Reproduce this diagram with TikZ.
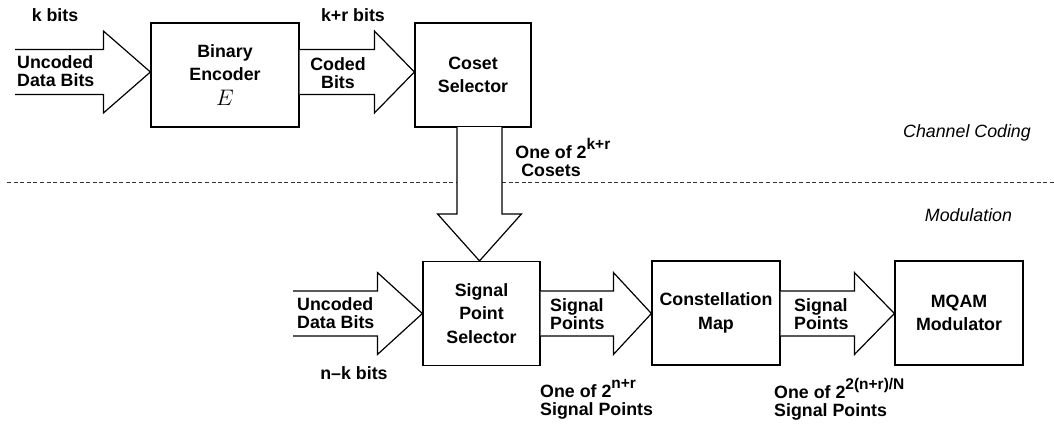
\documentclass[tikz,border=0pt]{standalone}
\usepackage{fontspec}
\setmainfont{Liberation Sans}
\usetikzlibrary{calc}
\tikzset{
  blk/.style={draw, line width=1.2pt, inner sep=0pt, minimum height=104pt, align=center,
    font=\bfseries\fontsize{17.8}{23.5}\selectfont},
  fat/.style={draw, line width=1.2pt, fill=white, line join=miter},
  lbl/.style={inner sep=0pt, align=left, font=\bfseries\fontsize{17.8}{18}\selectfont},
  lblc/.style={lbl, align=center},
  ital/.style={inner sep=0pt, font=\itshape\fontsize{17.8}{18}\selectfont},
  sep/.style={line width=1pt, black!80, dash pattern=on 4pt off 2.6pt}
}
\newcommand\fatH[3]{\draw[fat] let \p1=(#1),\p2=(#2) in
  (\x1,\y1+22.5pt) -- (\x2-#3pt,\y1+22.5pt) -- (\x2-#3pt,\y1+41pt) -- (\x2,\y1)
  -- (\x2-#3pt,\y1-41pt) -- (\x2-#3pt,\y1-22.5pt) -- (\x1,\y1-22.5pt);}
\newcommand\fatV[3]{\draw[fat] let \p1=(#1),\p2=(#2) in
  (\x1-22.5pt,\y1) -- (\x1-22.5pt,\y2+#3pt) -- (\x1-42pt,\y2+#3pt) -- (\x1,\y2)
  -- (\x1+42pt,\y2+#3pt) -- (\x1+22.5pt,\y2+#3pt) -- (\x1+22.5pt,\y1);}
\newcommand\sups[1]{\raisebox{9pt}{\fontsize{15.5}{15.5}\selectfont #1}}
\begin{document}
\begin{tikzpicture}[x=1pt,y=-1pt]
\useasboundingbox (0,0) rectangle (1054,424);
% separator
\coordinate (sepL) at (7,182);
\coordinate (sepR) at (1054,182);
\draw[sep] (sepL) -- (sepR);
% boxes
\node[blk, minimum width=148pt] (enc) at (225,75) {Binary\\Encoder\\[1pt]\mdseries\scalebox{1.3}{$E$}};
\node[blk, minimum width=116pt] (cos) at (473,75) {Coset\\Selector};
\node[blk, minimum width=117pt] (sps) at (481.5,313.5) {Signal\\Point\\Selector};
\node[blk, minimum width=128pt] (cm) at (716,313) {Constellation\\Map};
\node[blk, minimum width=128pt] (mq) at (959,313) {MQAM\\Modulator};
% arrow anchor points
\coordinate (a1s) at (15,72);
\coordinate (a1e) at (enc.west |- a1s);
\coordinate (a2s) at (enc.east |- a1s);
\coordinate (a2e) at (cos.west |- a1s);
\coordinate (vs) at (479.5,127);
\coordinate (ve) at (vs |- sps.north);
\coordinate (a3s) at (293,313.5);
\coordinate (a3e) at (sps.west |- a3s);
\coordinate (a4s) at (sps.east |- a3s);
\coordinate (a4e) at (cm.west |- a3s);
\coordinate (a5s) at (cm.east |- a3s);
\coordinate (a5e) at (mq.west |- a3s);
\fatH{a1s}{a1e}{47}
\fatH{a2s}{a2e}{40}
\fatV{vs}{ve}{47}
\fatH{a3s}{a3e}{45}
\fatH{a4s}{a4e}{38}
\fatH{a5s}{a5e}{40}
% labels
\node[lbl] (kb) at (55,15) {k bits};
\node[lbl] (krb) at (353,15) {k+r bits};
\node[lbl, anchor=west] (ud1) at (17,71) {Uncoded\\Data Bits};
\node[lblc] (cb) at (338,73) {Coded\\Bits};
\node[lblc] (cosets) at (551,157) {One of 2\rlap{\sups{k+r}}\\Cosets};
\node[lbl, anchor=west] (ud2) at (297,313) {Uncoded\\Data Bits};
\node[lbl] (nk) at (354,373) {n–k bits};
\node[lbl, anchor=west] (sp1) at (550,314) {Signal\\Points};
\node[lbl, anchor=west] (sp2) at (794,314) {Signal\\Points};
\node[lbl, anchor=west] (o1) at (540,399) {One of 2\sups{n+r}\\Signal Points};
\node[lbl, anchor=west] (o2) at (774,399) {One of 2\sups{2(n+r)/N}\\Signal Points};
\node[ital] (cc) at (967,133) {Channel Coding};
\node[ital] (mod) at (968.5,215) {Modulation};
\end{tikzpicture}
\end{document}
